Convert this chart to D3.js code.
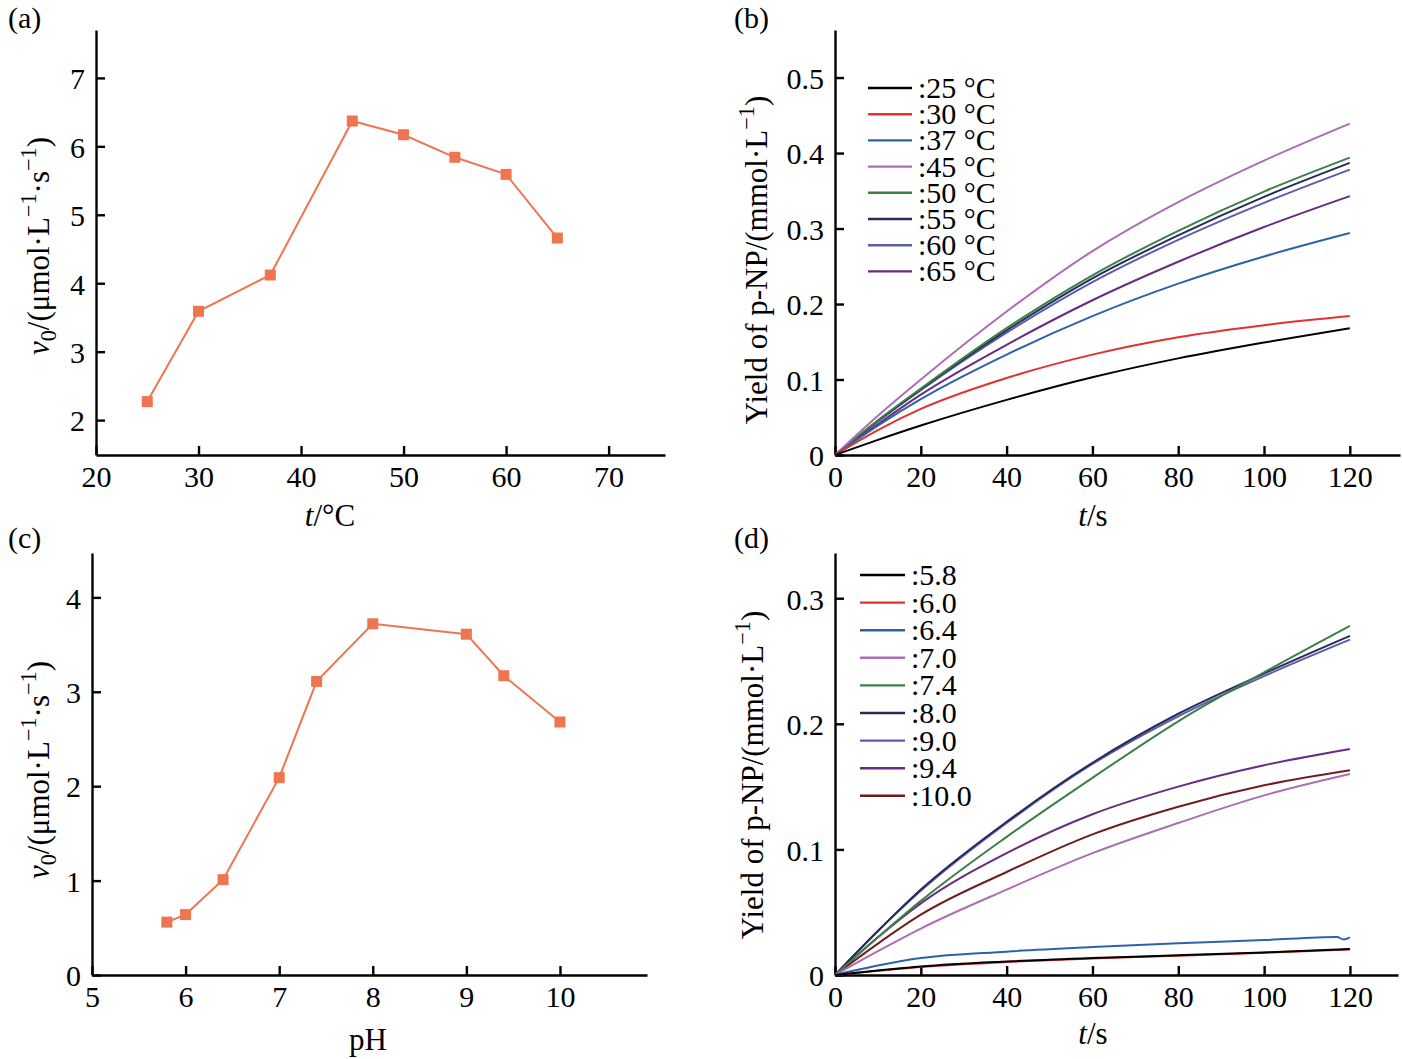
<!DOCTYPE html>
<html>
<head>
<meta charset="utf-8">
<script src="https://cdn.jsdelivr.net/npm/d3@7"></script>
<style>
  body { margin: 0; background: #fff; }
  text { font-family: "Liberation Serif", "Times New Roman", serif; fill: #000; }
</style>
</head>
<body>
<svg id="chart" width="1402" height="1059"></svg>
<script>
// (a) temperature vs initial rate
const tempC = [25, 30, 37, 45, 50, 55, 60, 65];
const rateTemp = [2.27, 3.59, 4.12, 6.37, 6.17, 5.84, 5.59, 4.66];

// (c) pH vs initial rate
const phVals = [5.8, 6.0, 6.4, 7.0, 7.4, 8.0, 9.0, 9.4, 10.0];
const ratePh = [0.56, 0.64, 1.01, 2.09, 3.11, 3.72, 3.61, 3.17, 2.68];

// (b) yield curves at each temperature
const timeB = [0, 10, 20, 40, 60, 80, 100, 120];
const labelsB = [':25 °C', ':30 °C', ':37 °C', ':45 °C', ':50 °C', ':55 °C', ':60 °C', ':65 °C'];
const colorsB = ['#000000', '#e3312f', '#2d62ab', '#ad6cb6', '#3b8047', '#282a5c', '#5c5caa', '#6a2b7e'];
const yieldB = [
  [0, 0.020, 0.039, 0.073, 0.103, 0.128, 0.149, 0.168],
  [0, 0.033, 0.061, 0.102, 0.133, 0.156, 0.172, 0.184],
  [0, 0.039, 0.074, 0.133, 0.184, 0.227, 0.263, 0.294],
  [0, 0.052, 0.100, 0.190, 0.270, 0.335, 0.390, 0.439],
  [0, 0.046, 0.088, 0.168, 0.238, 0.297, 0.349, 0.394],
  [0, 0.045, 0.087, 0.165, 0.234, 0.291, 0.342, 0.387],
  [0, 0.045, 0.086, 0.162, 0.229, 0.285, 0.334, 0.378],
  [0, 0.041, 0.080, 0.146, 0.205, 0.256, 0.302, 0.343]
];

// (d) yield curves at each pH
const timeD = [0, 10, 20, 40, 60, 80, 100, 120];
const timeD64 = [0, 10, 20, 40, 60, 80, 100, 117, 118.5, 120];
const labelsD = [':5.8', ':6.0', ':6.4', ':7.0', ':7.4', ':8.0', ':9.0', ':9.4', ':10.0'];
const colorsD = ['#000000', '#e3312f', '#2d62ab', '#ad6cb6', '#3b8047', '#282a5c', '#5c5caa', '#6a2b7e', '#6f1e20'];
const yieldD = [
  [0, 0.0035, 0.0068, 0.0108, 0.0135, 0.0157, 0.0180, 0.0207],
  [0, 0.0033, 0.0064, 0.0104, 0.0132, 0.0154, 0.0177, 0.0203],
  [0, 0.0075, 0.0135, 0.0186, 0.0222, 0.0252, 0.0278, 0.0303, 0.0282, 0.0300],
  [0, 0.019, 0.037, 0.068, 0.097, 0.121, 0.143, 0.160],
  [0, 0.030, 0.059, 0.110, 0.157, 0.202, 0.241, 0.278],
  [0, 0.035, 0.068, 0.122, 0.169, 0.208, 0.240, 0.270],
  [0, 0.035, 0.067, 0.121, 0.168, 0.206, 0.238, 0.267],
  [0, 0.030, 0.057, 0.097, 0.128, 0.150, 0.167, 0.180],
  [0, 0.025, 0.048, 0.082, 0.112, 0.134, 0.151, 0.163]
];

const orange = '#ee7550';
const fs = 30;       // ticks and legends
const labelFs = 31;  // axis titles
const svg = d3.select('#chart');

// write text made of plain / italic / sub / sup pieces
function rich(sel, parts, size) {
  let shift = 0;
  parts.forEach(p => {
    const target = p.sub ? 0.22 * size : p.sup ? -0.42 * size : 0;
    const ts = sel.append('tspan').text(p.t).attr('dy', target - shift);
    shift = target;
    if (p.i) ts.style('font-style', 'italic');
    if (p.sub || p.sup) ts.style('font-size', (size * 0.72) + 'px');
  });
}

const rateLabel = [
  { t: 'v', i: true }, { t: '0', sub: true }, { t: '/(μmol·L' }, { t: '\u22121', sup: true },
  { t: '·s' }, { t: '\u22121', sup: true }, { t: ')' }
];
const yieldLabel = [{ t: 'Yield of p-NP/(mmol·L' }, { t: '\u22121', sup: true }, { t: ')' }];

function panel(cfg) {
  const x = d3.scaleLinear().domain(cfg.xDomain).range([cfg.left, cfg.right]);
  const y = d3.scaleLinear().domain(cfg.yDomain).range([cfg.bottom, cfg.top]);
  const g = svg.append('g');

  const xAxis = g.append('g')
    .attr('transform', `translate(0,${cfg.bottom})`)
    .call(d3.axisBottom(x).tickValues(cfg.xTicks).tickSizeInner(-9).tickSizeOuter(0).tickPadding(11).tickFormat(d3.format('')));
  const yAxis = g.append('g')
    .attr('transform', `translate(${cfg.left},0)`)
    .call(d3.axisLeft(y).tickValues(cfg.yTicks).tickSizeInner(-9).tickSizeOuter(0).tickPadding(11).tickFormat(d3.format('')));
  [xAxis, yAxis].forEach(a => {
    a.selectAll('path, line').attr('stroke', '#000').attr('stroke-width', 2.4);
    a.selectAll('text').style('font-size', fs + 'px').attr('fill', '#000')
      .style('font-family', '"Liberation Serif", serif');
  });
  yAxis.selectAll('text').attr('dy', '0.36em');

  // axis titles
  const xt = g.append('text').attr('x', cfg.xLabelX).attr('y', cfg.xLabelY)
    .attr('text-anchor', 'middle').style('font-size', labelFs + 'px');
  rich(xt, cfg.xLabel, labelFs);
  const yt = g.append('text')
    .attr('transform', `translate(${cfg.yLabelX},${cfg.yLabelY}) rotate(-90)`)
    .attr('text-anchor', 'middle').style('font-size', labelFs + 'px');
  rich(yt, cfg.yLabel, labelFs);

  g.append('text').attr('x', cfg.tagX).attr('y', cfg.tagY).style('font-size', '30px').text(cfg.tag);
  return { g, x, y };
}

// ---- (a)
const pa = panel({
  left: 96, right: 665, top: 30, bottom: 455,
  xDomain: [20, 75.5], yDomain: [1.49, 7.7],
  xTicks: [20, 30, 40, 50, 60, 70], yTicks: [2, 3, 4, 5, 6, 7],
  xLabel: [{ t: 't', i: true }, { t: '/°C' }], xLabelX: 330, xLabelY: 526,
  yLabel: rateLabel, yLabelX: 49, yLabelY: 246,
  tag: '(a)', tagX: 8, tagY: 28
});

// ---- (b)
const pb = panel({
  left: 835, right: 1400, top: 30, bottom: 455,
  xDomain: [0, 131.7], yDomain: [0, 0.563],
  xTicks: [0, 20, 40, 60, 80, 100, 120], yTicks: [0, 0.1, 0.2, 0.3, 0.4, 0.5],
  xLabel: [{ t: 't', i: true }, { t: '/s' }], xLabelX: 1093, xLabelY: 526,
  yLabel: yieldLabel, yLabelX: 767, yLabelY: 260,
  tag: '(b)', tagX: 734, tagY: 28
});

// ---- (c)
const pc = panel({
  left: 92, right: 647, top: 553, bottom: 975,
  xDomain: [5, 10.93], yDomain: [0, 4.47],
  xTicks: [5, 6, 7, 8, 9, 10], yTicks: [0, 1, 2, 3, 4],
  xLabel: [{ t: 'pH' }], xLabelX: 368, xLabelY: 1050,
  yLabel: rateLabel, yLabelX: 49, yLabelY: 770,
  tag: '(c)', tagX: 8, tagY: 548
});

// ---- (d)
const pd = panel({
  left: 835, right: 1398, top: 553, bottom: 975,
  xDomain: [0, 131.2], yDomain: [0, 0.336],
  xTicks: [0, 20, 40, 60, 80, 100, 120], yTicks: [0, 0.1, 0.2, 0.3],
  xLabel: [{ t: 't', i: true }, { t: '/s' }], xLabelX: 1093, xLabelY: 1044,
  yLabel: yieldLabel, yLabelX: 763, yLabelY: 775,
  tag: '(d)', tagX: 734, tagY: 548
});

// point-line panels
function pointLine(p, xs, ys) {
  const pts = xs.map((v, i) => [v, ys[i]]);
  p.g.append('path').datum(pts)
    .attr('fill', 'none').attr('stroke', orange).attr('stroke-width', 2)
    .attr('d', d3.line().x(d => p.x(d[0])).y(d => p.y(d[1])));
  p.g.selectAll('rect.pt').data(pts).join('rect')
    .attr('x', d => p.x(d[0]) - 5.5).attr('y', d => p.y(d[1]) - 5.5)
    .attr('width', 11).attr('height', 11).attr('fill', orange);
}
pointLine(pa, tempC, rateTemp);
pointLine(pc, phVals, ratePh);

// curve panels with legend
function curves(p, times, series, colors, labels, legend) {
  const line = d3.line().x(d => p.x(d[0])).y(d => p.y(d[1])).curve(d3.curveMonotoneX);
  // draw in reverse so the first series sits on top like the original
  series.map((s, i) => i).reverse().forEach(i => {
    const ts = times[i];
    p.g.append('path').datum(ts.map((t, j) => [t, series[i][j]]))
      .attr('fill', 'none').attr('stroke', colors[i]).attr('stroke-width', 2)
      .attr('d', line);
  });
  labels.forEach((lab, i) => {
    const yy = legend.y0 + i * legend.step;
    p.g.append('line').attr('x1', legend.x1).attr('x2', legend.x2)
      .attr('y1', yy).attr('y2', yy).attr('stroke', colors[i]).attr('stroke-width', 2.4);
    p.g.append('text').attr('x', legend.x2 + 6).attr('y', yy + 10)
      .style('font-size', fs + 'px').text(lab);
  });
}
curves(pb, yieldB.map(() => timeB), yieldB, colorsB, labelsB, { x1: 868, x2: 912, y0: 88, step: 26.2 });
curves(pd, yieldD.map((s, i) => i === 2 ? timeD64 : timeD), yieldD, colorsD, labelsD, { x1: 860, x2: 905, y0: 575, step: 27.6 });
</script>
</body>
</html>
